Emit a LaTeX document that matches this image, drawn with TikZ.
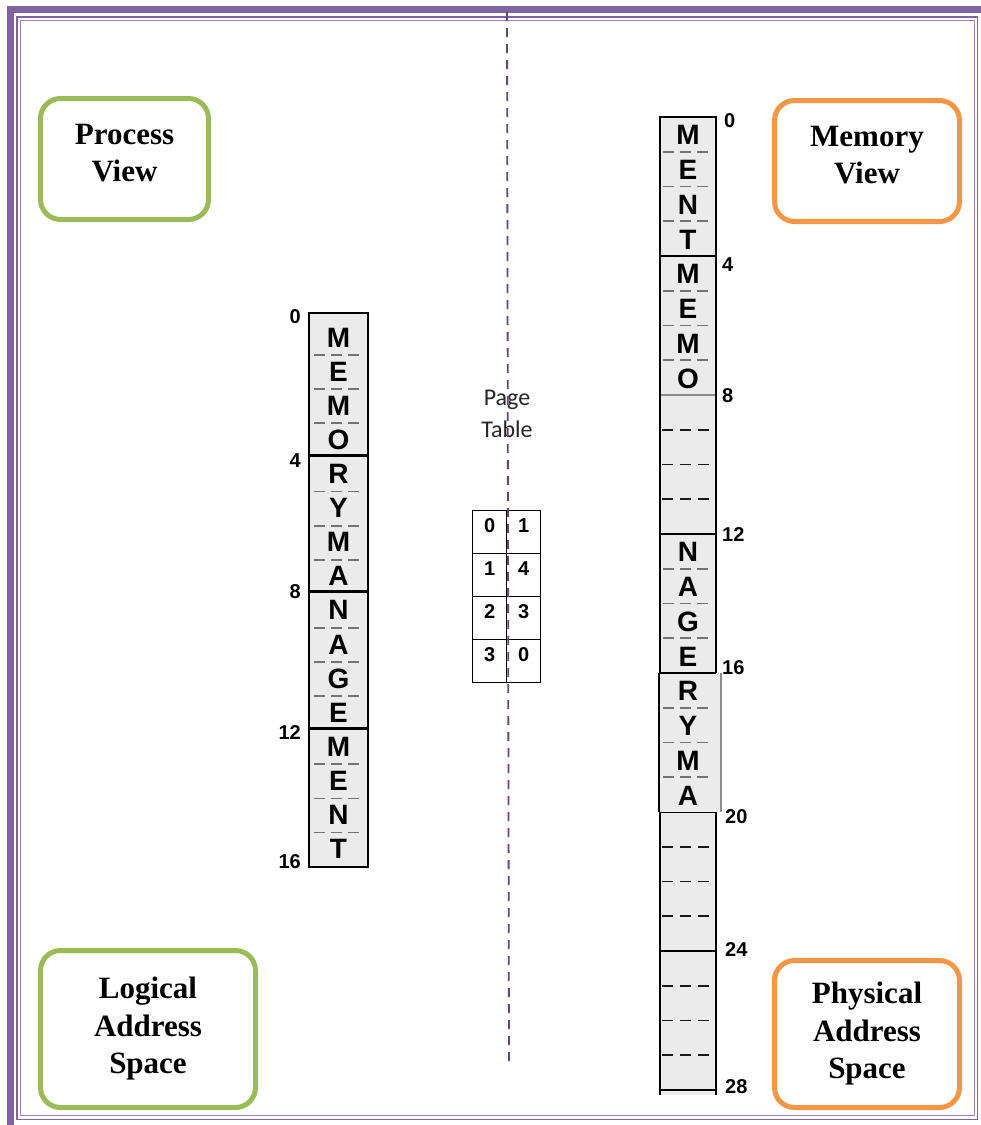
\documentclass[tikz,border=0pt]{standalone}
\usepackage{fontspec}
\setmainfont{Liberation Serif}
\newfontfamily\arialfont{Liberation Sans}
\newfontfamily\califont{Carlito}
\usetikzlibrary{positioning}
\definecolor{brd}{HTML}{8064A2}
\definecolor{proc}{HTML}{9BBB59}
\definecolor{phys}{HTML}{F79646}
\definecolor{cellbg}{HTML}{EBEBEB}
\definecolor{split}{HTML}{5F497A}
\tikzset{
  view/.style={draw,rounded corners=20pt,line width=5pt,align=center,inner sep=0pt,font=\bfseries\fontsize{31}{37.5}\selectfont},
  ch/.style={font=\arialfont\bfseries\fontsize{28}{28}\selectfont,anchor=base,inner sep=0pt},
  addr/.style={font=\arialfont\bfseries\fontsize{20}{20}\selectfont,inner sep=0pt},
  sep/.style={black!55,line width=1.8pt,dash pattern=on 11pt off 6pt},
  free/.style={black!90,line width=1.8pt,dash pattern=on 11pt off 7pt},
  bound/.style={black,line width=2.8pt},
  ptcell/.style={draw,line width=1.4pt,minimum width=34pt,minimum height=43pt,inner sep=0pt,anchor=north west},
}
\begin{document}
\begin{tikzpicture}[x=1pt,y=-1pt]
\useasboundingbox (0,0) rectangle (981,1125);
\fill[white] (0,0) rectangle (981,1125);
% page border
\fill[brd] (7,6) rectangle (981,13);
\fill[brd] (7,6) rectangle (14,1125);
\draw[brd,line width=1.4pt] (17,17) rectangle (977.5,1119.5);
\draw[brd!80,line width=1.1pt] (20.5,20.5) rectangle (974.5,1115.5);

% views
\node[view,draw=proc,minimum width=168pt,minimum height=121pt,text depth=12pt] (pv) at (124.5,159) {Process\\View};
\node[view,draw=proc,minimum width=215pt,minimum height=157pt] (las) at (148,1029) {Logical\\Address\\Space};
\node[view,draw=phys,minimum width=185pt,minimum height=121pt,text depth=12pt] (mv) at (867,161) {Memory\\View};
\node[view,draw=phys,minimum width=185pt,minimum height=147pt] (pas) at (867,1034) {Physical\\Address\\Space};

% logical address space
\draw[fill=cellbg,line width=2pt] (309,313) rectangle (368,867);
\foreach \k in {1,2,3,5,6,7,9,10,11,13,14,15}
  \draw[sep] (314,321+34.1*\k) -- (362,321+34.1*\k);
\foreach \k in {4,8,12}
  \draw[bound] (309,319+34.1*\k) -- (368,319+34.1*\k);
\foreach \c [count=\i] in {M,E,M,O,R,Y,M,A,N,A,G,E,M,E,N,T}
  \node[ch] (lg\i) at (338.5,313+34.1*\i) {\c};
\foreach \n/\y in {0/317,4/461,8/592,12/733,16/862}
  \node[addr,anchor=east] (la\n) at (301,\y) {\n};

% page table
\node[font=\califont\fontsize{24}{32}\selectfont,text=black!85,align=center,inner sep=0pt] (ptl) at (507,414) {Page\\Table};
\foreach \p/\f [count=\r from 0] in {0/1,1/4,2/3,3/0}{
  \node[ptcell] (pg\r) at (472,510+43*\r) {};
  \node[ptcell] (fr\r) at (506,510+43*\r) {};
  \node[addr] (pgn\r) at ([yshift=-16pt]pg\r.north) {\p};
  \node[addr] (frn\r) at ([yshift=-16pt]fr\r.north) {\f};
}

% physical address space
\fill[cellbg] (660,812) rectangle (716,1095);
\draw[line width=2.2pt] (660,1095) -- (660,812) -- (716,812) -- (716,1095);
\draw[fill=cellbg,line width=2.6pt] (660,117) rectangle (716,673);
\fill[cellbg] (659,673) rectangle (721,812);
\draw[black!45,line width=1.4pt] (721,673) -- (721,812);
\draw[line width=2.6pt] (659,673) -- (659,812);
\draw[black!45,line width=1.2pt] (661,395) -- (715,395);
\foreach \k in {4,12,16,24,28}
  \draw[bound] (660,117+34.75*\k) -- (716,117+34.75*\k);
\foreach \k in {1,2,3,5,6,7,13,14,15,17,18,19}
  \draw[sep] (663,117+34.75*\k) -- (711,117+34.75*\k);
\foreach \k in {9,10,11,21,22,23,25,26,27}
  \draw[free] (662,117+34.75*\k) -- (710,117+34.75*\k);
\foreach \c/\k in {M/1,E/2,N/3,T/4,M/5,E/6,M/7,O/8,N/13,A/14,G/15,E/16,R/17,Y/18,M/19,A/20}
  \node[ch] (ph\k) at (688,110+34.75*\k) {\c};
\foreach \n/\x/\y in {0/724/121,4/722/265,8/722/396,12/722/535,16/722/668,20/725/817,24/725/950,28/725/1087}
  \node[addr,anchor=west] (pa\n) at (\x,\y) {\n};

% split line
\coordinate (st) at (507,12);
\coordinate (sb) at (509,1063);
\draw[split,line width=1.8pt,dash pattern=on 9pt off 7pt] (st) -- (sb);
\end{tikzpicture}
\end{document}
